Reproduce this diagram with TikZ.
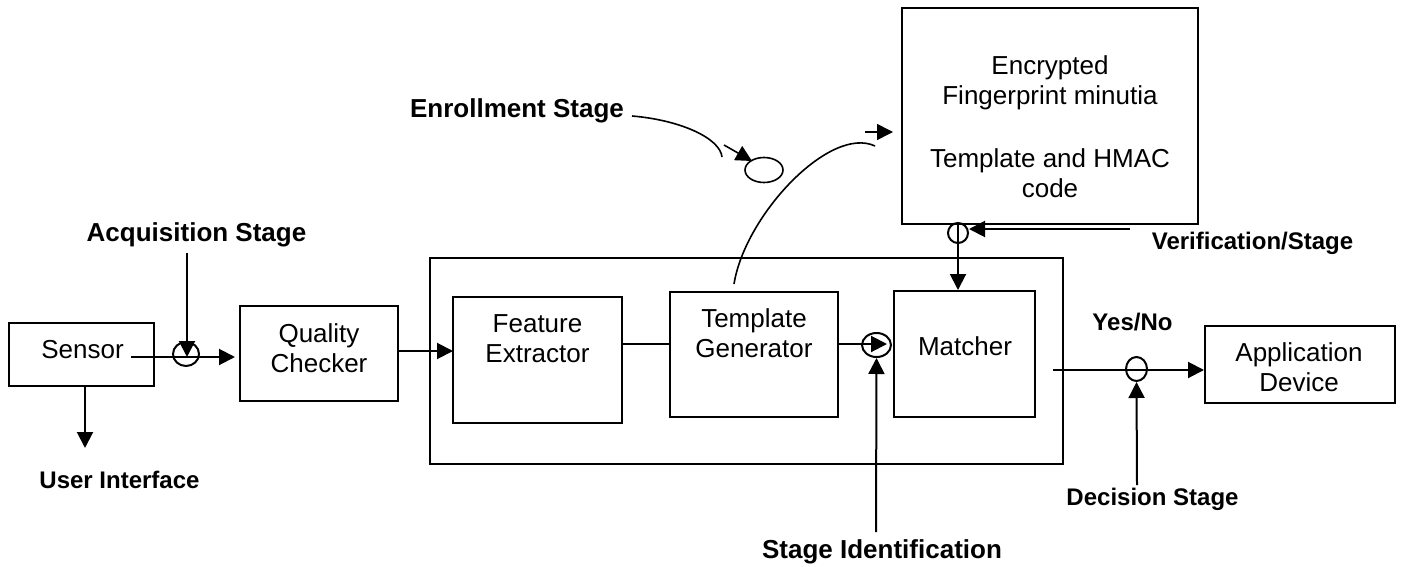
\documentclass[tikz,border=0pt]{standalone}
\usepackage{fontspec}
\setmainfont{Liberation Sans}
\usetikzlibrary{arrows.meta,shapes.geometric,calc}
\begin{document}
\begin{tikzpicture}[x=0.5pt,y=-0.5pt, line width=1pt,
  box/.style={draw, rectangle, inner sep=0pt},
  txt/.style={font=\fontsize{13pt}{15pt}\selectfont, align=center, inner sep=0pt},
  biglbl/.style={font=\fontsize{13pt}{15pt}\selectfont\bfseries, inner sep=0pt, anchor=base},
  smalllbl/.style={font=\fontsize{12pt}{14pt}\selectfont\bfseries, inner sep=0pt, anchor=base},
  junc/.style={draw, ellipse, inner sep=0pt},
  arr/.style={-{Triangle[length=8pt,width=8pt]}},
  thinline/.style={line width=0.8pt}]
\useasboundingbox (0,0) rectangle (1402,567);

% boxes
\node[box, minimum width=316.5pt, minimum height=103pt] (big) at (746.5,361) {};
\node[box, minimum width=72.5pt, minimum height=31.5pt] (sensor) at (81.5,354.5) {};
\node[box, minimum width=79pt, minimum height=47.5pt] (qc) at (319,353.5) {};
\node[box, minimum width=84.5pt, minimum height=63pt] (fe) at (537.5,360) {};
\node[box, minimum width=84pt, minimum height=62.5pt] (tg) at (754,354.5) {};
\node[box, minimum width=70.5pt, minimum height=63pt] (matcher) at (964.5,354) {};
\node[box, minimum width=148pt, minimum height=108pt] (storage) at (1050,116) {};
\node[box, minimum width=95pt, minimum height=38.5pt] (app) at (1300,364.5) {};

% box texts
\node[txt] (sensorT) at (82.5,349.7) {Sensor};
\node[txt] (qcT) at (319,348) {Quality\\Checker};
\node[txt] (feT) at (537.5,338.5) {Feature\\Extractor};
\node[txt] (tgT) at (754,333.5) {Template\\Generator};
\node[txt] (matcherT) at (965,346.5) {Matcher};
\node[txt] (appT) at (1299,367.5) {Application\\Device};
\node[txt] (storageT) at (1050,127.2) {Encrypted\\Fingerprint minutia\hspace*{18pt}\\[16.5pt]Template and HMAC\\code};

% labels
\node[biglbl] (acqlbl) at (196.5,241) {Acquisition Stage};
\node[smalllbl] (uilbl) at (119.5,488) {User Interface};
\node[biglbl] (enlbl) at (517,118) {Enrollment Stage};
\node[biglbl] (idlbl) at (882,558) {Stage Identification};
\node[smalllbl] (verlbl) at (1252.5,249) {Verification/Stage};
\node[smalllbl] (yeslbl) at (1132.5,330) {Yes/No};
\node[smalllbl] (declbl) at (1152.5,505) {Decision Stage};

% junction circles
\node[junc, minimum width=13pt, minimum height=12pt] (acq) at (186,354) {};
\node[junc, minimum width=14.5pt, minimum height=12pt] (ident) at (876.5,345) {};
\node[junc, minimum width=10pt, minimum height=10pt] (verc) at (958,233) {};
\node[junc, minimum width=10.5pt, minimum height=12pt] (dec) at (1136.5,369) {};
\node[junc, thinline, minimum width=19pt, minimum height=12.5pt] (enc) at (764,170) {};

% free ends
\coordinate (s1) at (131,357);
\coordinate (acqtop) at (187,253);
\coordinate (uitip) at (85,448);
\coordinate (fein) at (453,351);
\coordinate (tgin) at (670,344);
\coordinate (identtip) at (887,344);
\coordinate (idbot) at (876,532);
\coordinate (verstart) at (1130,229);
\coordinate (mout) at (1053,370);
\coordinate (decbot) at (1137,485);
\coordinate (e1) at (632,116);
\coordinate (e2) at (722,157);
\coordinate (ea1) at (724,145);
\coordinate (ea2) at (752,161);
\coordinate (tgtop) at (734,284);
\coordinate (arcend) at (875,146);
\coordinate (sa1) at (865,132);
\coordinate (sa2) at (893,132);

% connectors
\draw[arr] (s1) -- ([xshift=-2pt]s1 -| qc.west);
\draw[arr] (acqtop) -- (acqtop |- s1);
\draw[arr] (uitip |- sensor.south) -- (uitip);
\draw[arr] (qc.east |- fein) -- (fein);
\draw (fe.east |- tgin) -- (tgin);
\draw[arr] (tg.east |- identtip) -- (identtip);
\draw[arr] (idbot) -- (ident.south);
\draw[arr] (verc |- storage.south) -- (verc |- matcher.north);
\draw[arr] (verstart) -- (verc.east |- verstart);
\draw[arr] (mout) -- (mout -| app.west);
\draw[arr] (decbot) -- (dec.south);

% enrollment curves
\draw[thinline] (e1) .. controls (680,120) and (720,138) .. (e2);
\draw[thinline, arr] (ea1) -- (ea2);
\draw[thinline] (tgtop) .. controls (745,215) and (830,125) .. (arcend);
\draw[thinline, arr] (sa1) -- (sa2);
\end{tikzpicture}
\end{document}
